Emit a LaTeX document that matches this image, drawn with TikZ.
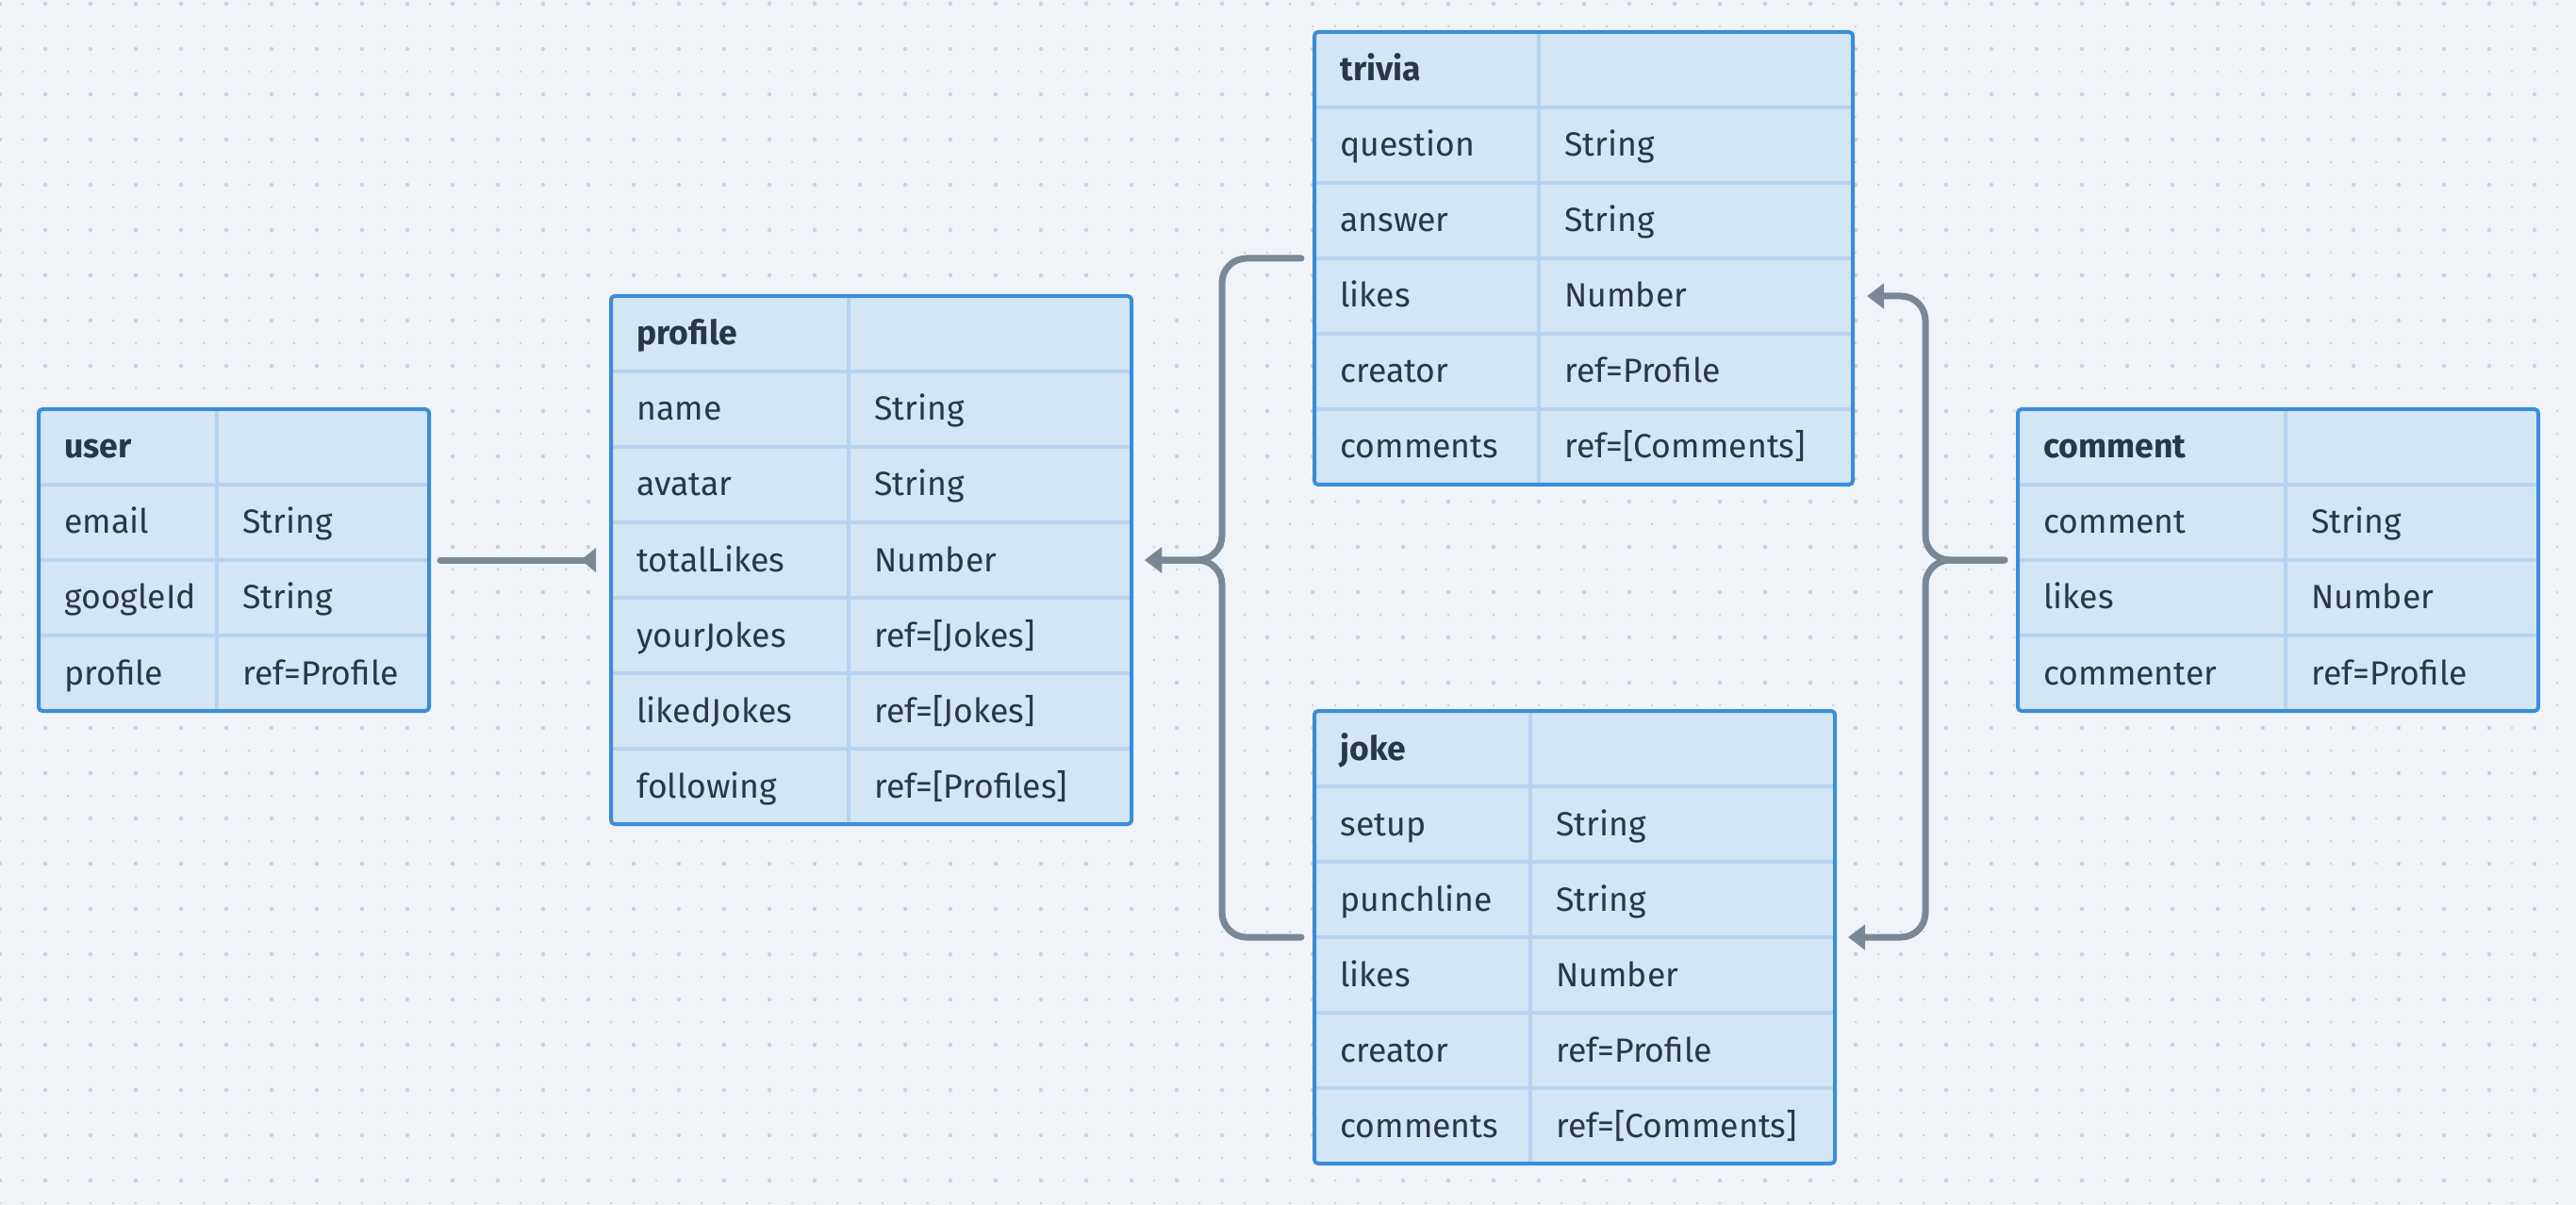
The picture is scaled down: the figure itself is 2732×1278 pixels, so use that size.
\documentclass[tikz,border=0pt]{standalone}
\usepackage{fontspec}
\setmainfont{Fira Sans}
\usetikzlibrary{arrows.meta}
\definecolor{canvasbg}{HTML}{F0F4F8}
\definecolor{dotgray}{HTML}{C8D2DD}
\definecolor{tablefill}{HTML}{D4E5F5}
\definecolor{tableblue}{HTML}{3A8DDA}
\definecolor{celline}{HTML}{B6D4F1}
\definecolor{inkdark}{HTML}{283846}
\definecolor{linkgray}{HTML}{7A8896}

\begin{document}
\begin{tikzpicture}[x=0.5pt,y=-0.5pt,line cap=round,line join=round,
  tablebox/.style={fill=tablefill,draw=none,inner sep=0pt,outer sep=0pt},
  tableframe/.style={draw=tableblue,line width=2pt,rounded corners=2pt},
  cellgrid/.style={draw=celline,line width=1.8pt,line cap=butt},
  fieldtext/.style={anchor=base west,inner sep=0pt,text=inkdark,font=\fontsize{17.8}{20}\selectfont},
  headtext/.style={fieldtext,font=\fontsize{17.8}{20}\selectfont\bfseries},
  link/.style={draw=linkgray,line width=3.5pt,rounded corners=13pt}]
\useasboundingbox (0,0) rectangle (2732,1278);
\fill[canvasbg] (0,0) rectangle (2732,1278);
% dotted canvas
\foreach \j in {0,...,53} {
  \fill[dotgray] \foreach \i in {0,...,113} {(\i*24-1,\j*24+3) rectangle ++(2,2)};
}
\foreach \j in {0,...,26} {
  \fill[dotgray] \foreach \i in {0,...,56} {(\i*48,\j*48+4) circle (1.1pt)};
}

% tables
\node[tablebox,minimum width=207pt,minimum height=160pt] (user) at (248,594) {};
\node[tablebox,minimum width=276pt,minimum height=280pt] (profile) at (924,594) {};
\node[tablebox,minimum width=285.5pt,minimum height=240pt] (trivia) at (1679.5,274) {};
\node[tablebox,minimum width=276pt,minimum height=240pt] (joke) at (1670,994) {};
\node[tablebox,minimum width=276pt,minimum height=160pt] (comment) at (2416,594) {};

\draw[cellgrid] (41,514) -- (455,514) (41,594) -- (455,594) (41,674) -- (455,674) (230,434) -- (230,754);
\draw[cellgrid] (648,394) -- (1200,394) (648,474) -- (1200,474) (648,554) -- (1200,554)
  (648,634) -- (1200,634) (648,714) -- (1200,714) (648,794) -- (1200,794) (900,314) -- (900,874);
\draw[cellgrid] (1394,114) -- (1965,114) (1394,194) -- (1965,194) (1394,274) -- (1965,274)
  (1394,354) -- (1965,354) (1394,434) -- (1965,434) (1632,34) -- (1632,514);
\draw[cellgrid] (1394,834) -- (1946,834) (1394,914) -- (1946,914) (1394,994) -- (1946,994)
  (1394,1074) -- (1946,1074) (1394,1154) -- (1946,1154) (1623,754) -- (1623,1234);
\draw[cellgrid] (2140,514) -- (2692,514) (2140,594) -- (2692,594) (2140,674) -- (2692,674) (2424,434) -- (2424,754);

\draw[tableframe] (user.north west) rectangle (user.south east);
\draw[tableframe] (profile.north west) rectangle (profile.south east);
\draw[tableframe] (trivia.north west) rectangle (trivia.south east);
\draw[tableframe] (joke.north west) rectangle (joke.south east);
\draw[tableframe] (comment.north west) rectangle (comment.south east);

% user
\node[headtext] (user-title) at (68,486) {user};
\node[fieldtext] (user-email) at (68,566) {email};
\node[fieldtext] (user-email-type) at (257,566) {String};
\node[fieldtext] (user-google) at (68,646) {googleId};
\node[fieldtext] (user-google-type) at (257,646) {String};
\node[fieldtext] (user-profile) at (68,726) {profile};
\node[fieldtext] (user-profile-type) at (257,726) {ref=Profile};

% profile
\node[headtext] (profile-title) at (675,366) {profile};
\node[fieldtext] (profile-name) at (675,446) {name};
\node[fieldtext] (profile-name-type) at (927,446) {String};
\node[fieldtext] (profile-avatar) at (675,526) {avatar};
\node[fieldtext] (profile-avatar-type) at (927,526) {String};
\node[fieldtext] (profile-likes) at (675,606) {totalLikes};
\node[fieldtext] (profile-likes-type) at (927,606) {Number};
\node[fieldtext] (profile-own) at (675,686) {yourJokes};
\node[fieldtext] (profile-own-type) at (927,686) {ref=[Jokes]};
\node[fieldtext] (profile-liked) at (675,766) {likedJokes};
\node[fieldtext] (profile-liked-type) at (927,766) {ref=[Jokes]};
\node[fieldtext] (profile-follow) at (675,846) {following};
\node[fieldtext] (profile-follow-type) at (927,846) {ref=[Profiles]};

% trivia
\node[headtext] (trivia-title) at (1421,86) {trivia};
\node[fieldtext] (trivia-question) at (1421,166) {question};
\node[fieldtext] (trivia-question-type) at (1659,166) {String};
\node[fieldtext] (trivia-answer) at (1421,246) {answer};
\node[fieldtext] (trivia-answer-type) at (1659,246) {String};
\node[fieldtext] (trivia-likes) at (1421,326) {likes};
\node[fieldtext] (trivia-likes-type) at (1659,326) {Number};
\node[fieldtext] (trivia-creator) at (1421,406) {creator};
\node[fieldtext] (trivia-creator-type) at (1659,406) {ref=Profile};
\node[fieldtext] (trivia-comments) at (1421,486) {comments};
\node[fieldtext] (trivia-comments-type) at (1659,486) {ref=[Comments]};

% joke
\node[headtext] (joke-title) at (1421,806) {joke};
\node[fieldtext] (joke-setup) at (1421,886) {setup};
\node[fieldtext] (joke-setup-type) at (1650,886) {String};
\node[fieldtext] (joke-punch) at (1421,966) {punchline};
\node[fieldtext] (joke-punch-type) at (1650,966) {String};
\node[fieldtext] (joke-likes) at (1421,1046) {likes};
\node[fieldtext] (joke-likes-type) at (1650,1046) {Number};
\node[fieldtext] (joke-creator) at (1421,1126) {creator};
\node[fieldtext] (joke-creator-type) at (1650,1126) {ref=Profile};
\node[fieldtext] (joke-comments) at (1421,1206) {comments};
\node[fieldtext] (joke-comments-type) at (1650,1206) {ref=[Comments]};

% comment
\node[headtext] (comment-title) at (2167,486) {comment};
\node[fieldtext] (comment-text) at (2167,566) {comment};
\node[fieldtext] (comment-text-type) at (2451,566) {String};
\node[fieldtext] (comment-likes) at (2167,646) {likes};
\node[fieldtext] (comment-likes-type) at (2451,646) {Number};
\node[fieldtext] (comment-author) at (2167,726) {commenter};
\node[fieldtext] (comment-author-type) at (2451,726) {ref=Profile};

% links
\coordinate (busL) at (1296,594);
\coordinate (busR) at (2042,594);
\draw[link,-{Triangle[reversed,length=8pt,width=12.5pt]}] ([xshift=6pt]user.east) -- ([xshift=-8pt]profile.west);
\draw[link,-{Triangle[length=9pt,width=13pt]}] ([xshift=-7pt]trivia.west) -| (busL) -- ([xshift=7pt]profile.east);
\draw[link,-{Triangle[length=9pt,width=13pt]}] ([xshift=-7pt]joke.west) -| (busL) -- ([xshift=7pt]profile.east);
\draw[link,-{Triangle[length=9pt,width=13pt]}] ([xshift=-7pt]comment.west) -- (busR) |- ([xshift=7.5pt,yshift=-20pt]trivia.east);
\draw[link,-{Triangle[length=9pt,width=13pt]}] ([xshift=-7pt]comment.west) -- (busR) |- ([xshift=7pt]joke.east);
\end{tikzpicture}
\end{document}
